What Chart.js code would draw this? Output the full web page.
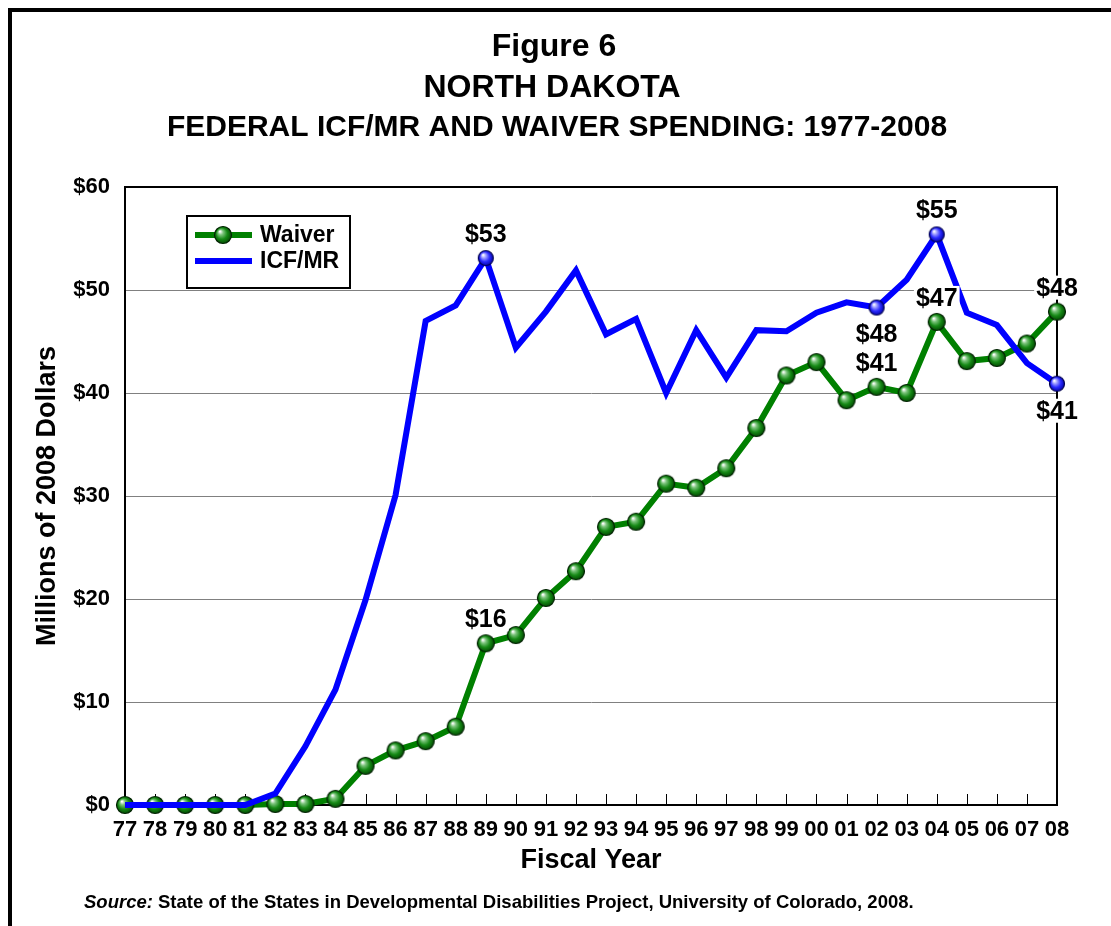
<!DOCTYPE html>
<html>
<head>
<meta charset="utf-8">
<script src="https://cdn.jsdelivr.net/npm/chart.js@4.4.0/dist/chart.umd.min.js"></script>
<style>
  html, body { margin: 0; padding: 0; background: #fff; overflow: hidden; }
  #frame { position: absolute; left: 8px; top: 8px; width: 1200px; height: 1000px; border: 4px solid #000; box-sizing: border-box; }
  #wrap { position: absolute; left: 0; top: 0; width: 1111px; height: 926px; }
</style>
</head>
<body>
<div id="frame"></div>
<div id="wrap"><canvas id="chart" width="1111" height="926"></canvas></div>
<script>
(function(){
  'use strict';

  // --- data (millions of 2008 dollars) ---
  const years = ['77','78','79','80','81','82','83','84','85','86','87','88','89','90','91','92',
                 '93','94','95','96','97','98','99','00','01','02','03','04','05','06','07','08'];
  const waiver = [0, 0, 0, 0, 0, 0.1, 0.1, 0.6, 3.8, 5.3, 6.2, 7.6, 15.7, 16.5, 20.1, 22.7,
                  27.0, 27.5, 31.2, 30.8, 32.7, 36.6, 41.7, 43.0, 39.3, 40.6, 40.0, 46.9, 43.1, 43.4, 44.8, 47.9];
  const icfmr = [0, 0, 0, 0, 0, 1.1, 5.7, 11.2, 19.9, 30.1, 47.0, 48.5, 53.1, 44.4, 47.9, 51.9,
                 45.7, 47.2, 40.0, 46.1, 41.5, 46.1, 46.0, 47.8, 48.8, 48.3, 51.0, 55.4, 47.8, 46.6, 42.9, 40.9];
  const yTicks = [0, 10, 20, 30, 40, 50, 60];

  // labelled points: [series ('waiver'|'icfmr'), year, side]
  const callouts = [
    ['icfmr', '89', 'above'], ['waiver', '89', 'above'],
    ['icfmr', '04', 'above'], ['waiver', '04', 'above'],
    ['icfmr', '02', 'below'], ['waiver', '02', 'above'],
    ['waiver', '08', 'above'], ['icfmr', '08', 'below']
  ];
  const icfMarkedYears = ['89', '02', '04', '08'];

  const titleLines = ['Figure 6', 'NORTH DAKOTA'];
  const subTitle = 'FEDERAL ICF/MR AND WAIVER SPENDING: 1977-2008';
  const sourceLead = 'Source:';
  const sourceText = 'State of the States in Developmental Disabilities Project, University of Colorado, 2008.';

  const FONT = "'Liberation Sans', Arial, Helvetica, sans-serif";
  const GREEN = '#008000';
  const BLUE = '#0000ff';

  Chart.defaults.font.family = FONT;
  Chart.defaults.color = '#000';

  // shaded ball used as point marker
  function makeBall(size, light, mid, dark, edge){
    const c = document.createElement('canvas');
    c.width = c.height = size + 2;
    const g = c.getContext('2d');
    const r = size / 2, cx = r + 1, cy = r + 1;
    const grad = g.createRadialGradient(cx - r*0.35, cy - r*0.4, r*0.05, cx, cy, r);
    grad.addColorStop(0, '#ffffff');
    grad.addColorStop(0.25, light);
    grad.addColorStop(0.6, mid);
    grad.addColorStop(1, dark);
    g.beginPath();
    g.arc(cx, cy, r - 0.5, 0, Math.PI*2);
    g.fillStyle = grad;
    g.fill();
    g.lineWidth = 1.2;
    g.strokeStyle = edge;
    g.stroke();
    return c;
  }
  const greenBall = makeBall(18, '#7cc47c', '#168a16', '#004400', '#002200');
  const blueBall = makeBall(16, '#a0a0ff', '#2a2aff', '#0000a0', '#000050');

  // title, subtitle and source note
  const headerPlugin = {
    id: 'header',
    afterDraw(chart){
      const ctx = chart.ctx;
      ctx.save();
      ctx.fillStyle = '#000';
      ctx.textAlign = 'center';
      ctx.textBaseline = 'middle';
      ctx.font = 'bold 32px ' + FONT;
      ctx.fillText(titleLines[0], 554, 47);
      ctx.fillText(titleLines[1], 552, 88);
      ctx.font = 'bold 30px ' + FONT;
      ctx.fillText(subTitle, 557, 128);
      ctx.textAlign = 'left';
      ctx.font = 'italic bold 18.5px ' + FONT;
      ctx.fillText(sourceLead, 84, 903);
      const w = ctx.measureText(sourceLead + ' ').width;
      ctx.font = 'bold 18.5px ' + FONT;
      ctx.fillText(sourceText, 84 + w, 903);
      ctx.restore();
    }
  };

  // plot frame and inward tick marks on the x axis
  const frameTicksPlugin = {
    id: 'frameTicks',
    beforeDatasetsDraw(chart){
      const {ctx, chartArea: a} = chart;
      const x = chart.scales.x;
      ctx.save();
      ctx.strokeStyle = '#000';
      ctx.lineWidth = 1;
      ctx.beginPath();
      for(let i = 0; i < years.length; i++){
        const px = Math.round(x.getPixelForTick(i)) + 0.5;
        ctx.moveTo(px, a.bottom);
        ctx.lineTo(px, a.bottom - 11);
      }
      ctx.stroke();
      ctx.lineWidth = 2;
      ctx.beginPath();
      ctx.moveTo(a.left, a.top);
      ctx.lineTo(a.right, a.top);
      ctx.lineTo(a.right, a.bottom);
      ctx.stroke();
      ctx.restore();
    }
  };

  // value labels and legend box
  const calloutPlugin = {
    id: 'callouts',
    afterDatasetsDraw(chart){
      const ctx = chart.ctx;
      ctx.save();
      ctx.font = 'bold 25px ' + FONT;
      ctx.textAlign = 'center';
      ctx.textBaseline = 'middle';
      callouts.forEach(function(c){
        const di = c[0] === 'waiver' ? 0 : 1;
        const series = di === 0 ? waiver : icfmr;
        const idx = years.indexOf(c[1]);
        const pt = chart.getDatasetMeta(di).data[idx];
        const txt = '$' + Math.round(series[idx]);
        const cy = c[2] === 'above' ? pt.y - 24 : pt.y + 27;
        const w = ctx.measureText(txt).width;
        ctx.fillStyle = '#fff';
        ctx.fillRect(pt.x - w/2 - 2, cy - 12, w + 4, 24);
        ctx.fillStyle = '#000';
        ctx.fillText(txt, pt.x, cy + 1);
      });

      // legend
      const lx = 187, ly = 216, lw = 163, lh = 72;
      ctx.fillStyle = '#fff';
      ctx.fillRect(lx, ly, lw, lh);
      ctx.strokeStyle = '#000';
      ctx.lineWidth = 2;
      ctx.strokeRect(lx, ly, lw, lh);
      const ds = chart.data.datasets;
      const rows = [ly + 19, ly + 45];
      ctx.font = 'bold 23px ' + FONT;
      ctx.textAlign = 'left';
      ds.forEach(function(d, i){
        const ry = rows[i];
        ctx.strokeStyle = d.borderColor;
        ctx.lineWidth = 6;
        ctx.beginPath();
        ctx.moveTo(lx + 8, ry);
        ctx.lineTo(lx + 65, ry);
        ctx.stroke();
        if(i === 0) ctx.drawImage(greenBall, lx + 36 - greenBall.width/2, ry - greenBall.height/2);
        ctx.fillStyle = '#000';
        ctx.fillText(d.label, lx + 73, ry + 1);
      });
      ctx.restore();
    }
  };

  new Chart(document.getElementById('chart'), {
    type: 'line',
    data: {
      labels: years,
      datasets: [
        {
          label: 'Waiver',
          data: waiver,
          borderColor: GREEN,
          backgroundColor: GREEN,
          borderWidth: 6,
          pointStyle: greenBall,
          pointRadius: 9,
          pointHoverRadius: 9,
          tension: 0,
          clip: false,
          order: 1
        },
        {
          label: 'ICF/MR',
          data: icfmr,
          borderColor: BLUE,
          backgroundColor: BLUE,
          borderWidth: 6,
          pointStyle: blueBall,
          pointRadius: function(c){ return icfMarkedYears.indexOf(years[c.dataIndex]) >= 0 ? 8 : 0; },
          pointHoverRadius: 8,
          tension: 0,
          clip: false,
          order: 0
        }
      ]
    },
    options: {
      responsive: false,
      animation: false,
      events: [],
      layout: { padding: { left: 20, right: 54, top: 187, bottom: 41 } },
      plugins: {
        legend: { display: false },
        tooltip: { enabled: false },
        title: { display: false }
      },
      scales: {
        x: {
          type: 'category',
          offset: false,
          grid: { drawOnChartArea: false, drawTicks: false },
          border: { display: true, color: '#000', width: 2 },
          ticks: { font: { size: 22, weight: 'bold' }, color: '#000', padding: 12, maxRotation: 0, autoSkip: false },
          title: { display: true, text: 'Fiscal Year', font: { size: 27, weight: 'bold' }, color: '#000', padding: { top: 0, bottom: 8 } },
          afterFit: function(s){ s.height = 80; }
        },
        y: {
          min: yTicks[0],
          max: yTicks[yTicks.length - 1],
          afterBuildTicks: function(s){ s.ticks = yTicks.map(function(v){ return { value: v }; }); },
          grid: { color: '#808080', lineWidth: 1, drawTicks: false },
          border: { display: true, color: '#000', width: 2 },
          ticks: { font: { size: 22, weight: 'bold' }, color: '#000', padding: 15, callback: function(v){ return '$' + v; } },
          title: { display: true, text: 'Millions of 2008 Dollars', font: { size: 27, weight: 'bold' }, color: '#000', padding: { top: 11, bottom: 0 } },
          afterFit: function(s){ s.width = 105; }
        }
      }
    },
    plugins: [headerPlugin, frameTicksPlugin, calloutPlugin]
  });
})();
</script>
</body>
</html>
